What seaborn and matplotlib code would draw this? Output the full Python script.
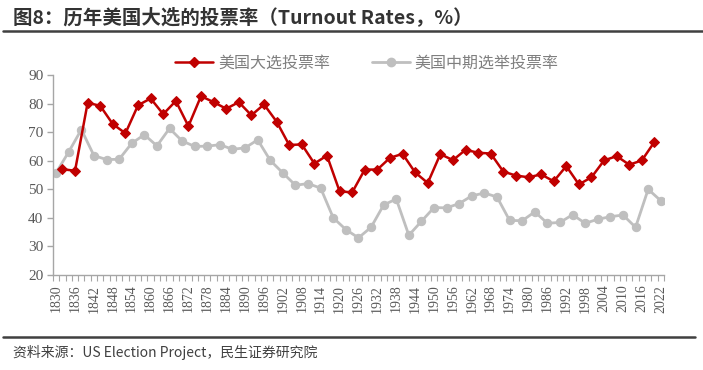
import numpy as np
import pandas as pd
import seaborn as sns
import matplotlib.pyplot as plt
from matplotlib.lines import Line2D

# turnout data (US Election Project), in %
pres_years = list(range(1832, 2021, 4))
pres_turnout = [57.0, 56.5, 80.3, 79.2, 72.8, 69.6, 79.4, 81.8, 76.3, 80.9,
                72.1, 82.6, 80.5, 78.2, 80.5, 75.9, 79.7, 73.7, 65.5, 65.7,
                59.0, 61.8, 49.3, 48.9, 56.9, 56.9, 61.0, 62.4, 55.9, 52.2,
                62.3, 60.2, 63.8, 62.8, 62.5, 56.2, 54.8, 54.2, 55.2, 52.8,
                58.1, 51.7, 54.2, 60.1, 61.6, 58.6, 60.1, 66.6]
mid_years = list(range(1830, 2023, 4))
mid_turnout = [55.8, 63.1, 70.9, 61.8, 60.4, 60.5, 66.1, 69.1, 65.2, 71.3,
               66.9, 65.0, 65.1, 65.6, 64.0, 64.5, 67.3, 60.1, 55.7, 51.4,
               52.0, 50.4, 40.0, 35.9, 33.0, 36.7, 44.5, 46.6, 33.9, 38.8,
               43.6, 43.5, 45.0, 47.7, 48.7, 47.3, 39.1, 39.0, 42.1, 38.1,
               38.4, 41.1, 38.1, 39.5, 40.4, 41.0, 36.7, 50.0, 46.0]
all_years = list(range(1830, 2023, 2))
label_years = all_years[::3]

pres = pd.DataFrame({'pos': [all_years.index(y) for y in pres_years], 'val': pres_turnout})
mid = pd.DataFrame({'pos': [all_years.index(y) for y in mid_years], 'val': mid_turnout})

sns.set_theme(style='white')
plt.rcParams['font.family'] = ['Noto Sans CJK SC', 'DejaVu Sans']

red = '#C00000'
grey = '#BFBFBF'
txt = '#595959'
serif = ['Liberation Serif', 'DejaVu Serif']

fig = plt.figure(figsize=(7.03, 3.70), dpi=100)
ax = fig.add_axes([0.0754, 0.2568, 0.869, 0.5405])

sns.lineplot(data=pres, x='pos', y='val', ax=ax, color=red, lw=1.8,
             marker='D', markersize=5.5, markeredgecolor=red, zorder=3)
sns.lineplot(data=mid, x='pos', y='val', ax=ax, color=grey, lw=2.0,
             marker='o', markersize=6, markeredgecolor=grey, zorder=2)

ax.set_xlim(-0.5, len(all_years) - 0.5)
ax.set_ylim(20, 90)
ax.set_xlabel('')
ax.set_ylabel('')

for s in ['top', 'right']:
    ax.spines[s].set_visible(False)
for s in ['left', 'bottom']:
    ax.spines[s].set_color('#A6A6A6')
    ax.spines[s].set_linewidth(1.0)

ax.set_yticks(range(20, 91, 10))
ax.set_xticks(range(0, len(all_years), 3))
ax.set_xticks(np.arange(-0.5, len(all_years), 1), minor=True)
ax.tick_params(axis='y', which='major', left=True, length=4, width=1, color='#A6A6A6', pad=3)
ax.tick_params(axis='x', which='major', bottom=True, length=0, pad=7)
ax.tick_params(axis='x', which='minor', bottom=True, length=4, width=0.8, color='#A6A6A6')

ax.set_yticklabels([str(v) for v in range(20, 91, 10)],
                   fontfamily=serif, fontsize=11, color=txt)
ax.set_xticklabels([str(y) for y in label_years], rotation=90,
                   fontfamily=serif, fontsize=10, color=txt)

handles = [Line2D([], [], color=red, lw=1.8, marker='D', markersize=5.5),
           Line2D([], [], color=grey, lw=2.0, marker='o', markersize=6)]
leg = fig.legend(handles, ['美国大选投票率', '美国中期选举投票率'], ncol=2,
                 loc='center', bbox_to_anchor=(0.522, 0.83), frameon=False,
                 fontsize=11.5, handlelength=2.4, handletextpad=0.3, columnspacing=2.6)
for t in leg.get_texts():
    t.set_color('#7F7F7F')

fig.text(0.018, 0.953, '图8：历年美国大选的投票率（Turnout Rates，%）',
         fontsize=14, fontweight='bold', color='#333333', va='center', ha='left')
fig.add_artist(Line2D([0.004, 1.0], [0.916, 0.916], color='#404040', lw=1.8))
fig.add_artist(Line2D([0.004, 0.989], [0.089, 0.089], color='#404040', lw=1.8))
fig.text(0.018, 0.048, '资料来源：US Election Project，民生证券研究院',
         fontsize=10, color='#404040', va='center', ha='left')

fig.savefig('out.png', dpi=100, facecolor='white')
